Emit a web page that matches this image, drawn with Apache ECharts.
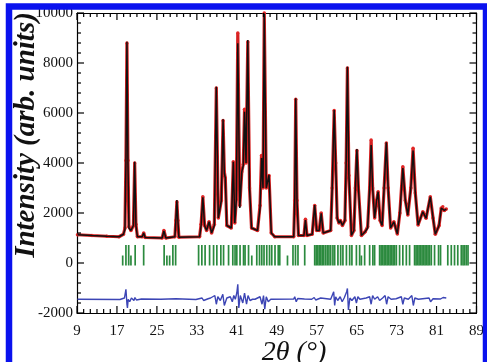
<!DOCTYPE html>
<html>
<head>
<meta charset="utf-8">
<script src="https://cdn.jsdelivr.net/npm/echarts@6/dist/echarts.min.js"></script>
<style>
html,body{margin:0;padding:0;background:#fff;}
#chart{width:487px;height:362px;}
</style>
</head>
<body>
<div id="chart"></div>
<script>
// 2θ positions of the profile vertices (degrees)
const twoTheta = [9.1, 12, 15, 17.4, 18.3, 18.6, 18.8, 19.0, 19.2, 19.4, 19.8, 20.3, 20.55, 20.8, 21.1,
  22.05, 22.35, 22.65, 26.05, 26.4, 26.8, 28.6, 28.8, 29.0, 29.2, 29.4,
  33.55, 33.85, 34.2, 34.55, 34.95, 35.45, 35.95, 36.5, 36.9, 37.3, 37.9, 38.25, 38.5, 38.7, 39.0,
  39.9, 40.3, 40.6, 40.9, 41.2, 41.6, 42.0, 42.3, 42.55, 42.85, 43.2, 43.55, 43.95, 45.15,
  45.65, 45.95, 46.25, 46.5, 46.9, 47.45, 47.9, 48.6, 52.4, 52.6, 52.8, 53.05, 53.35,
  54.45, 54.75, 55.05, 56.1, 56.6, 57.0, 57.5, 57.9, 58.3, 59.8, 60.1, 60.5, 60.8, 61.1, 61.45, 61.75, 62.15,
  62.65, 62.9, 63.15, 63.45, 63.95, 64.45, 64.75, 65.05, 65.35, 65.95,
  66.7, 67.2, 67.6, 67.9, 68.2, 68.6, 69.0, 69.3, 69.7, 70.1, 70.5, 70.95, 71.3, 71.8, 72.45, 73.15,
  73.65, 74.25, 74.75, 75.25, 75.85, 76.3, 76.75, 77.3, 78.25, 78.9, 79.75, 80.3, 80.75,
  81.5, 81.95, 82.25, 82.55, 82.95];
// calculated intensity (arb. units)
const calcIntensity = [1130, 1100, 1070, 1050, 1150, 1350, 4000, 8850, 4000, 1400, 1300, 1500, 4050, 1500, 1050,
  1050, 1200, 1020, 1000, 1280, 1000, 1050, 1700, 2520, 1700, 1030,
  1050, 1500, 2630, 1500, 1300, 1650, 1200, 1500, 7050, 1800, 2500, 5750, 3600, 3400, 1500,
  1400, 4050, 1600, 2500, 8790, 2200, 3650, 3900, 6050, 4000, 8920, 3000, 1400, 1300,
  2200, 4200, 3000, 9980, 3000, 3520, 1200, 1050, 1050, 2500, 6590, 2500, 1100,
  1100, 1720, 1100, 1150, 2320, 1300, 1300, 1990, 1200, 1300, 3000, 6120, 4000, 1800, 1600, 1700, 1500,
  1700, 4000, 7850, 3500, 1100, 1300, 3000, 4560, 3000, 1100,
  1250, 1400, 3000, 4720, 3000, 1800, 2500, 2850, 1700, 1500, 3000, 4830, 3000, 1400, 1650, 1160,
  2000, 3800, 2500, 1920, 3000, 4500, 2800, 1520, 2050, 1790, 2650, 1800, 1150,
  1500, 2200, 2250, 2100, 2160];
// observed intensity (arb. units)
const obsIntensity = [1130, 1100, 1070, 1050, 1150, 1400, 4100, 8800, 4100, 1450, 1300, 1500, 4000, 1550, 1050,
  1050, 1200, 1020, 1000, 1300, 1000, 1050, 1700, 2450, 1700, 1030,
  1050, 1550, 2650, 1500, 1300, 1650, 1200, 1550, 7000, 1800, 2500, 5700, 3650, 3400, 1500,
  1400, 4050, 1600, 2550, 9200, 2300, 3650, 3950, 6150, 4000, 8850, 3000, 1400, 1300,
  2300, 4300, 3000, 10000, 3000, 3500, 1200, 1050, 1050, 2500, 6550, 2500, 1100,
  1100, 1750, 1100, 1150, 2300, 1300, 1300, 2000, 1200, 1300, 3000, 6100, 4000, 1800, 1600, 1700, 1500,
  1700, 4000, 7800, 3500, 1100, 1300, 3000, 4500, 3000, 1100,
  1250, 1450, 3000, 4920, 3000, 1800, 2500, 2850, 1700, 1500, 3000, 4800, 3000, 1400, 1650, 1160,
  2000, 3850, 2500, 1920, 3000, 4590, 2800, 1520, 2050, 1790, 2650, 1800, 1150,
  1500, 2200, 2250, 2100, 2160];
// difference curve (obs - calc, offset)
const diffTheta = [9.1, 17.6, 18.5, 18.8, 19.0, 19.1, 19.25, 19.55, 19.9, 20.4, 20.6, 20.9, 21.9, 25.8, 28.8, 29.1, 32.8,
  34.05, 34.35, 35.25, 35.75, 36.6, 36.9, 37.2, 37.7, 38.2, 38.5, 39.0, 39.7, 40.1, 40.4, 40.7, 41.0, 41.2, 41.4, 41.7,
  42.2, 42.55, 42.95, 43.25, 43.65, 44.15, 44.65, 45.65, 46.05, 46.35, 46.6, 46.9, 47.3, 47.8, 52.4, 52.6, 52.9, 53.2,
  54.55, 54.85, 56.0, 56.5, 56.8, 57.8, 58.1, 59.8, 60.1, 60.4, 60.6, 60.8, 61.2, 61.7, 62.1, 62.5, 63.0, 63.15, 63.35,
  63.65, 64.05, 64.65, 64.95, 65.25, 65.65, 66.9, 67.6, 67.9, 68.2, 68.6, 69.2, 69.6, 70.2, 70.7, 71.0, 71.3, 71.9,
  72.9, 73.95, 74.25, 74.55, 75.35, 76.05, 76.35, 76.65, 77.35, 79.5, 79.8, 80.3, 81.8, 82.3, 82.95];
const diffIntensity = [-1450, -1460, -1400, -1050, -1650, -1800, -1450, -1550, -1400, -1500, -1380, -1480, -1440, -1450, -1430, -1480, -1460,
  -1400, -1500, -1430, -1400, -1300, -1650, -1350, -1500, -1250, -1700, -1400, -1350, -1550, -1300, -1450, -1200, -850, -1800, -1300,
  -1600, -1200, -1650, -1300, -1500, -1450, -1450, -1350, -1650, -1300, -1850, -1350, -1550, -1450, -1440, -1350, -1550, -1420,
  -1440, -1400, -1450, -1380, -1480, -1400, -1480, -1450, -1300, -1150, -1700, -1350, -1500, -1350, -1550, -1400, -1150, -1020, -1880,
  -1400, -1500, -1350, -1600, -1350, -1450, -1400, -1350, -1650, -1300, -1450, -1350, -1500, -1400, -1300, -1650, -1350, -1450,
  -1430, -1350, -1650, -1400, -1450, -1300, -1700, -1400, -1450, -1400, -1550, -1430, -1440, -1380, -1400];
// Bragg reflection positions (2θ)
const braggLong = [18.8, 19.35, 20.65, 22.35, 26.45, 28.2, 28.75, 33.35, 34.0, 34.65, 35.55, 36.35, 37.0, 37.8, 38.35,
  39.35, 40.2, 40.65, 41.0, 41.65, 42.35, 42.65, 43.35, 45.0, 45.55, 46.0, 46.45, 47.0, 47.55, 48.0, 48.65, 49.3, 49.6,
  52.25, 52.75, 53.25, 54.6, 56.6, 56.9, 57.2, 57.5, 57.8, 58.1, 58.4, 58.75, 59.1, 59.45, 59.8, 60.25, 60.6, 61.25,
  61.8, 62.25, 62.95, 63.6, 64.05, 64.95, 65.6, 66.6, 67.6, 68.25, 68.6, 69.6, 69.9, 70.2, 70.5, 70.8, 71.1, 71.4,
  71.7, 72.0, 72.3, 72.6, 72.95, 73.6, 74.25, 74.95, 75.6, 76.6, 76.9, 77.2, 77.5, 77.8, 78.1, 78.4, 78.7, 79.0, 79.3,
  79.6, 79.95, 80.6, 81.4, 81.8, 83.25, 83.95, 84.6, 85.25, 85.95, 86.3, 86.6, 86.95, 87.3];
const braggShort = [18.15, 19.8, 27.0, 27.55, 44.0, 51.15, 65.95];
const braggTopLong = 720, braggTopShort = 300, braggBottom = -100;
// axis tick values
const xMajorTicks = [9, 17, 25, 33, 41, 49, 57, 65, 73, 81, 89];
const yMajorTicks = [-2000, 0, 2000, 4000, 6000, 8000, 10000];
const xMinorSplit = 6, yMinorSplit = 5;

const X_MIN = 9, X_MAX = 89, Y_MIN = -2000, Y_MAX = 10000;
const FONT = 'Liberation Serif';

// frame tick list: [x, y, isMajor, kind (0 = tick on x axes, 1 = tick on y axes)]
const frameTicks = [];
xMajorTicks.forEach((v, i) => {
  frameTicks.push([v, Y_MIN, 1, 0]);
  if (i < xMajorTicks.length - 1) {
    const step = (xMajorTicks[i + 1] - v) / xMinorSplit;
    for (let k = 1; k < xMinorSplit; k++) frameTicks.push([v + k * step, Y_MIN, 0, 0]);
  }
});
yMajorTicks.forEach((v, i) => {
  frameTicks.push([X_MIN, v, 1, 1]);
  if (i < yMajorTicks.length - 1) {
    const step = (yMajorTicks[i + 1] - v) / yMinorSplit;
    for (let k = 1; k < yMinorSplit; k++) frameTicks.push([X_MIN, v + k * step, 0, 1]);
  }
});

function makeX(pos, showLabel) {
  return {
    type: 'value', min: X_MIN, max: X_MAX, interval: 8, position: pos,
    axisLine: {show: true, onZero: false, lineStyle: {color: '#000', width: 1.2}},
    axisTick: {show: false}, minorTick: {show: false}, splitLine: {show: false},
    axisLabel: showLabel ? {show: true, margin: 11, fontFamily: FONT, fontSize: 15, color: '#111',
      formatter: v => String(v)} : {show: false}
  };
}
function makeY(pos, showLabel) {
  return {
    type: 'value', min: Y_MIN, max: Y_MAX, interval: 2000, position: pos,
    axisLine: {show: true, onZero: false, lineStyle: {color: '#000', width: 1.2}},
    axisTick: {show: false}, minorTick: {show: false}, splitLine: {show: false},
    axisLabel: showLabel ? {show: true, margin: 4, fontFamily: FONT, fontSize: 15, color: '#111',
      formatter: v => String(v)} : {show: false}
  };
}

const chart = echarts.init(document.getElementById('chart'));
chart.setOption({
  animation: false,
  backgroundColor: '#fff',
  grid: {left: 77, top: 13, right: 10, bottom: 49, containLabel: false},
  xAxis: [makeX('bottom', true), makeX('top', false)],
  yAxis: [makeY('left', true), makeY('right', false)],
  series: [
    {
      type: 'custom', name: 'ticks', z: 6, silent: true, clip: false,
      encode: {x: 0, y: 1},
      data: frameTicks,
      renderItem: function (params, api) {
        const x = api.value(0), y = api.value(1);
        const len = api.value(2) ? 7 : 4;
        const kind = api.value(3);
        const st = {stroke: '#000', lineWidth: 1.2};
        if (kind === 0) {
          const a = api.coord([x, Y_MIN]), b = api.coord([x, Y_MAX]);
          return {type: 'group', children: [
            {type: 'line', shape: {x1: a[0], y1: a[1], x2: a[0], y2: a[1] - len}, style: st},
            {type: 'line', shape: {x1: b[0], y1: b[1], x2: b[0], y2: b[1] + len}, style: st}
          ]};
        }
        const a = api.coord([X_MIN, y]), b = api.coord([X_MAX, y]);
        return {type: 'group', children: [
          {type: 'line', shape: {x1: a[0], y1: a[1], x2: a[0] + len, y2: a[1]}, style: st},
          {type: 'line', shape: {x1: b[0], y1: b[1], x2: b[0] - len, y2: b[1]}, style: st}
        ]};
      }
    },
    {
      type: 'custom', name: 'Bragg', xAxisIndex: 0, yAxisIndex: 0, z: 2,
      data: braggLong.map(v => [v, braggTopLong]).concat(braggShort.map(v => [v, braggTopShort])),
      renderItem: function (params, api) {
        const p0 = api.coord([api.value(0), braggBottom]);
        const p1 = api.coord([api.value(0), api.value(1)]);
        return {type: 'line', shape: {x1: p0[0], y1: p0[1], x2: p1[0], y2: p1[1]},
          style: {stroke: '#2b8a3e', lineWidth: 1.7}};
      }
    },
    {
      type: 'line', name: 'diff', z: 3, showSymbol: false,
      data: diffTheta.map((v, i) => [v, diffIntensity[i]]),
      lineStyle: {color: '#3c45b5', width: 1.4}
    },
    {
      type: 'line', name: 'obs', z: 4, symbol: 'circle', symbolSize: 3.5, showSymbol: true,
      itemStyle: {color: '#e02525'},
      data: twoTheta.map((v, i) => [v, obsIntensity[i]]),
      lineStyle: {color: '#d42020', width: 3.2}
    },
    {
      type: 'line', name: 'calc', z: 5, showSymbol: false,
      data: twoTheta.map((v, i) => [v, calcIntensity[i]]),
      lineStyle: {color: '#111', width: 1.5}
    }
  ],
  graphic: [
    {type: 'text', x: 27, y: 135, rotation: Math.PI / 2,
      style: {text: 'Intensity (arb. units)', font: 'italic bold 29px "Liberation Serif"',
        fill: '#111', textAlign: 'center', textVerticalAlign: 'middle'}},
    {type: 'text', x: 294, y: 353,
      style: {text: '2θ (°)', font: 'italic 28px "Liberation Serif"',
        fill: '#111', textAlign: 'center', textVerticalAlign: 'middle'}},
    {type: 'rect', shape: {x: 9, y: 6.5, width: 477, height: 420},
      style: {fill: null, stroke: '#0a12ee', lineWidth: 6.5}, z: 100}
  ]
});
</script>
</body>
</html>
